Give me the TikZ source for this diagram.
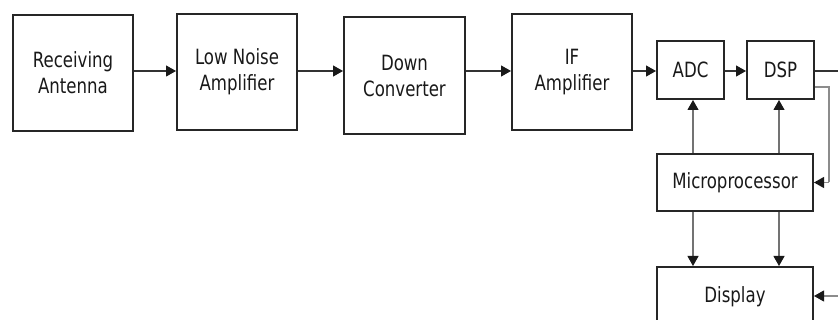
\documentclass[tikz,border=0pt]{standalone}
\usepackage{fontspec}
\setmainfont[FakeStretch=0.79]{DejaVu Sans}
\usetikzlibrary{arrows.meta}
\begin{document}
\begin{tikzpicture}[x=1pt,y=-1pt,
  blk/.style={draw=black!85, line width=2pt, inner sep=0pt, align=center,
    font=\fontsize{21}{26}\selectfont, text=black!90},
  conn/.style={draw=black!80, line width=1.1pt, -{Triangle[length=10pt,width=11pt,color=black!90]}},
  plain/.style={draw=black!80, line width=1.1pt},
  fb/.style={draw=black!45, line width=1.1pt}]
\useasboundingbox (0,0) rectangle (838,320);
\clip (0,0) rectangle (838,320);
\node[blk, minimum width=120pt, minimum height=116pt] (ant) at (73,73) {Receiving\\Antenna};
\node[blk, minimum width=120pt, minimum height=116pt] (lna) at (237,72) {Low Noise\\Amplifier};
\node[blk, minimum width=121pt, minimum height=117pt] (dc) at (404.5,75.5) {Down\\Converter};
\node[blk, minimum width=120pt, minimum height=116pt] (ifa) at (572,72) {IF\\Amplifier};
\node[blk, minimum width=67pt, minimum height=58pt] (adc) at (690.5,70) {ADC};
\node[blk, minimum width=67pt, minimum height=58pt] (dsp) at (780.5,70) {DSP};
\node[blk, minimum width=156pt, minimum height=57pt] (mp) at (735,182.5) {Microprocessor};
\node[blk, minimum width=156pt, minimum height=60pt] (disp) at (735,297) {Display};
\coordinate (row) at (0,71);
\coordinate (outr) at (838,71);
\coordinate (fbx) at (829,87);
\coordinate (fbd) at (829,182.5);
\coordinate (dispin) at (838,296);
\coordinate (lc) at (693,0);
\coordinate (rc) at (779,0);
% main chain
\draw[conn] (ant.east |- row) -- (lna.west |- row);
\draw[conn] (lna.east |- row) -- (dc.west |- row);
\draw[conn] (dc.east |- row) -- (ifa.west |- row);
\draw[conn] (ifa.east |- row) -- (adc.west |- row);
\draw[conn] (adc.east |- row) -- (dsp.west |- row);
\draw[plain] (dsp.east |- row) -- (outr);
% feedback DSP -> microprocessor
\draw[fb] (dsp.east |- fbx) -- (fbx) -- (fbd);
\draw[conn, draw=black!45] (fbd) -- (mp.east);
% microprocessor up to ADC / DSP
\draw[conn, draw=black!55] (lc |- mp.north) -- (lc |- adc.south);
\draw[conn, draw=black!55] (rc |- mp.north) -- (rc |- dsp.south);
% microprocessor down to display
\draw[conn, draw=black!55] (lc |- mp.south) -- (lc |- disp.north);
\draw[conn, draw=black!55] (rc |- mp.south) -- (rc |- disp.north);
% input to display
\draw[conn, draw=black!45] (dispin) -- (disp.east |- dispin);
\end{tikzpicture}
\end{document}
